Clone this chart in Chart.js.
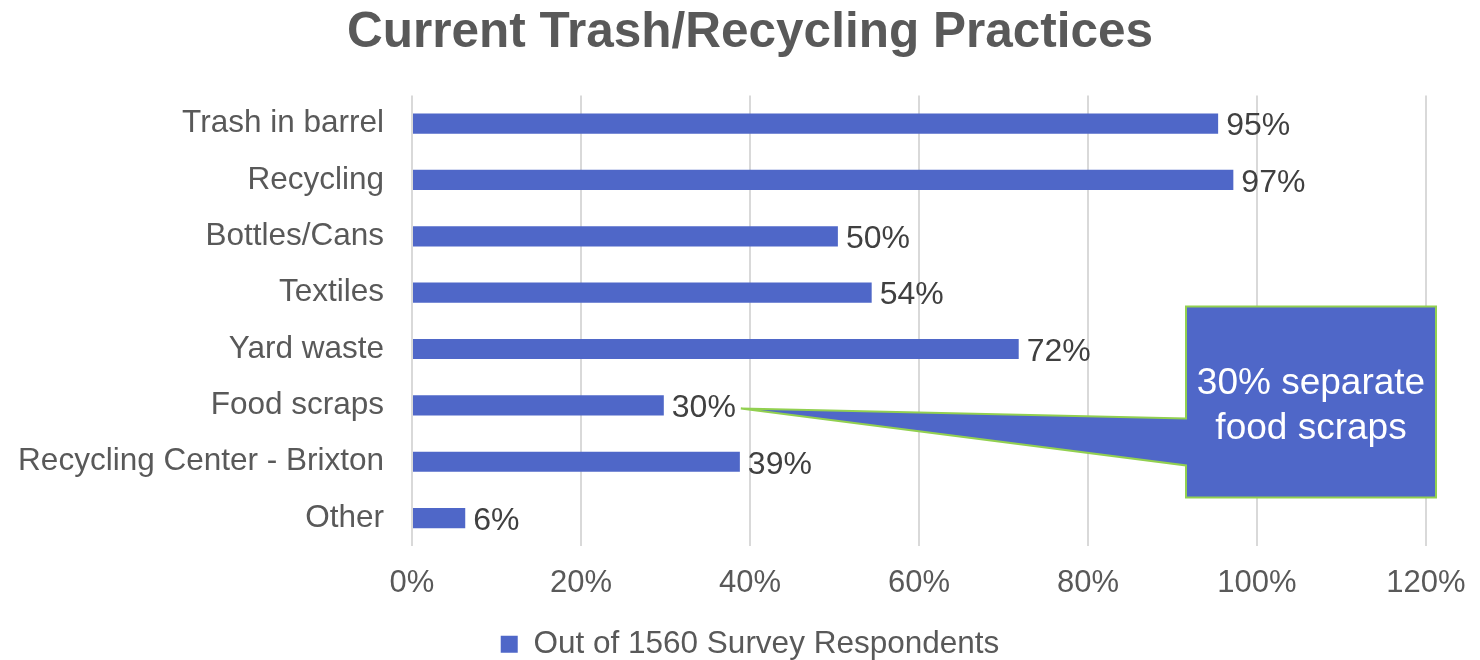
<!DOCTYPE html>
<html>
<head>
<meta charset="utf-8">
<script src="https://cdn.jsdelivr.net/npm/chart.js@4/dist/chart.umd.min.js"></script>
<style>
  html, body { margin: 0; padding: 0; background: #ffffff; }
  #wrap { width: 1480px; height: 660px; position: relative; }
</style>
</head>
<body>
<div id="wrap"><canvas id="chart"></canvas></div>
<script>
const categories = [
    'Trash in barrel',
    'Recycling',
    'Bottles/Cans',
    'Textiles',
    'Yard waste',
    'Food scraps',
    'Recycling Center - Brixton',
    'Other',
];
// percent of respondents
const shares = [95.4, 97.2, 50.4, 54.4, 71.8, 29.8, 38.8, 6.3];
const seriesLabel = 'Out of 1560 Survey Respondents';
const titleText = 'Current Trash/Recycling Practices';
const calloutLines = ['30% separate', 'food scraps'];
const calloutCategory = 'Food scraps';

const barColor = '#4F67C8';
const textGray = '#595959';
const labelGray = '#404040';
const fontFamily = '"Liberation Sans", Arial, sans-serif';

const pct = (value) => `${Math.round(value)}%`;

const valueLabels = {
    id: 'valueLabels',
    afterDatasetsDraw(chart) {
        const { ctx } = chart;
        const meta = chart.getDatasetMeta(0);
        ctx.save();
        ctx.font = `32px ${fontFamily}`;
        ctx.fillStyle = labelGray;
        ctx.textAlign = 'left';
        ctx.textBaseline = 'middle';
        meta.data.forEach((bar, i) => {
            ctx.fillText(pct(shares[i]), bar.x + 8, bar.y + 3);
        });
        ctx.restore();
    },
};

const callout = {
    id: 'callout',
    afterDraw(chart) {
        const { ctx, chartArea } = chart;
        const idx = categories.indexOf(calloutCategory);
        const bar = chart.getDatasetMeta(0).data[idx];
        ctx.save();
        ctx.font = `32px ${fontFamily}`;
        const tipX = bar.x + 8 + ctx.measureText(pct(shares[idx])).width + 5;
        const tipY = bar.y + 3;

        const left = chartArea.right - 240;
        const right = chartArea.right + 10;
        const top = chartArea.top + 211;
        const bottom = chartArea.top + 402;
        const notchTop = top + 112;
        const notchBottom = top + 159;

        ctx.beginPath();
        ctx.moveTo(left, top);
        ctx.lineTo(right, top);
        ctx.lineTo(right, bottom);
        ctx.lineTo(left, bottom);
        ctx.lineTo(left, notchBottom);
        ctx.lineTo(tipX, tipY);
        ctx.lineTo(left, notchTop);
        ctx.closePath();
        ctx.fillStyle = barColor;
        ctx.fill();
        ctx.strokeStyle = '#92D050';
        ctx.lineWidth = 2;
        ctx.stroke();

        ctx.fillStyle = '#ffffff';
        ctx.font = `37px ${fontFamily}`;
        ctx.textAlign = 'center';
        ctx.textBaseline = 'middle';
        const cx = (left + right) / 2;
        ctx.fillText(calloutLines[0], cx, top + 77);
        ctx.fillText(calloutLines[1], cx, top + 122);
        ctx.restore();
    },
};

new Chart(document.getElementById('chart'), {
    type: 'bar',
    data: {
        labels: categories,
        datasets: [
            {
                label: seriesLabel,
                data: shares,
                backgroundColor: barColor,
                barPercentage: 0.55,
                categoryPercentage: 0.65,
            },
        ],
    },
    options: {
        indexAxis: 'y',
        responsive: true,
        maintainAspectRatio: false,
        animation: false,
        layout: {
            padding: { left: 20, right: 0, top: 0, bottom: -10 },
        },
        scales: {
            x: {
                min: 0,
                max: 120,
                afterFit(scale) {
                    scale.height += 5;
                    scale.paddingRight = 54;
                },
                ticks: {
                    stepSize: 20,
                    color: textGray,
                    padding: 19,
                    font: { family: fontFamily, size: 31 },
                    callback(value) {
                        return `${value}%`;
                    },
                },
                grid: {
                    color: '#D9D9D9',
                    lineWidth: 2,
                    drawTicks: false,
                },
                border: { display: false },
            },
            y: {
                afterFit(scale) {
                    scale.width = 392;
                },
                ticks: {
                    color: textGray,
                    padding: 28,
                    font: { family: fontFamily, size: 31.5 },
                },
                grid: { display: false, drawTicks: false },
                border: { display: false },
            },
        },
        plugins: {
            title: {
                display: true,
                text: titleText,
                color: textGray,
                font: { family: fontFamily, size: 49.5, weight: 'bold' },
                padding: { top: 4, bottom: 32 },
            },
            legend: {
                position: 'bottom',
                labels: {
                    color: textGray,
                    boxWidth: 17,
                    boxHeight: 17,
                    padding: 2,
                    font: { family: fontFamily, size: 31.5 },
                },
            },
            tooltip: { enabled: false },
        },
    },
    plugins: [valueLabels, callout],
});
</script>
</body>
</html>
